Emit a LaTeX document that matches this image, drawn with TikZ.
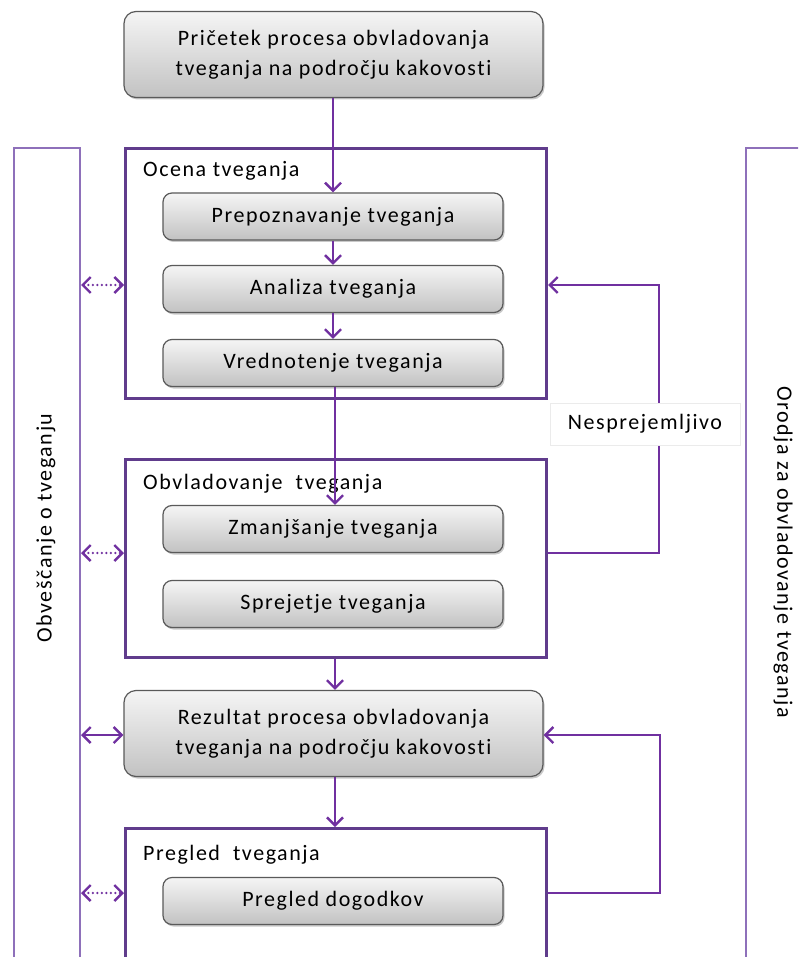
\documentclass[tikz,border=0pt]{standalone}
\usepackage{fontspec}
\setmainfont{Carlito}[LetterSpace=7,Ligatures=NoCommon]
\usetikzlibrary{arrows.meta,shadows,positioning}
\definecolor{groupc}{RGB}{96,60,140}
\definecolor{arrowc}{RGB}{112,48,160}
\definecolor{sidec}{RGB}{142,112,186}
\definecolor{boxtop}{RGB}{245,245,245}
\definecolor{boxbot}{RGB}{194,194,194}
\definecolor{boxline}{RGB}{90,90,90}
\tikzset{
  gbox/.style={draw=boxline, line width=1.2pt, rounded corners=9pt, top color=boxtop, bottom color=boxbot,
    align=center, inner sep=0pt, font=\fontsize{22}{30}\selectfont,
    drop shadow={shadow xshift=1.5pt, shadow yshift=-2pt, opacity=0.35, fill=black!60}},
  smallbox/.style={gbox, minimum width=340pt, minimum height=47pt},
  bigbox/.style={gbox, minimum width=419pt, minimum height=86pt, rounded corners=12pt},
  group/.style={draw=groupc, line width=3pt, inner sep=0pt},
  side/.style={draw=sidec, line width=2pt, inner sep=0pt},
  tipb/.tip={Straight Barb[length=8pt,width=16pt,line width=2.4pt]},
  flow/.style={draw=arrowc, line width=2.2pt, -tipb},
  flowtwo/.style={draw=arrowc, line width=2.2pt, tipb-tipb},
  dotflow/.style={flowtwo, dash pattern=on 0pt off 4.5pt, line cap=round, line width=2.6pt},
  txt/.style={font=\fontsize{22}{26}\selectfont},
  lbl/.style={txt, anchor=west, inner sep=0pt},
}
\begin{document}
\begin{tikzpicture}[x=1pt,y=-1pt]
\useasboundingbox (0,0) rectangle (798,957);
\clip (0,0) rectangle (798,957);
\fill[white] (0,0) rectangle (798,957);

% side columns
\node[side, minimum width=66pt, minimum height=870pt, anchor=north west] (left) at (13,147) {};
\node[side, minimum width=80pt, minimum height=870pt, anchor=north west] (right) at (745,147) {};
\node[rotate=90, txt] (lefttxt) at (46,528) {Obveščanje o tveganju};
\node[rotate=-90, txt] (righttxt) at (783,552) {Orodja za obvladovanje tveganja};

% groups
\node[group, minimum width=421pt, minimum height=250pt, anchor=north west] (ocena) at (124,147) {};
\node[lbl] (ocenal) at (143,171) {Ocena tveganja};
\node[group, minimum width=421pt, minimum height=198pt, anchor=north west] (obvl) at (124,458) {};
\node[lbl] (obvll) at (143,484) {Obvladovanje\ \ tveganja};
\node[group, minimum width=421pt, minimum height=200pt, anchor=north west] (pregled) at (124,827) {};
\node[lbl] (pregledl) at (143,855) {Pregled\ \ tveganja};

% boxes
\node[bigbox] (start) at (333.5,54.5) {Pričetek procesa obvladovanja\\tveganja na področju kakovosti};
\node[smallbox] (prep) at (333,216.5) {Prepoznavanje tveganja};
\node[smallbox] (anal) at (333,289) {Analiza tveganja};
\node[smallbox] (vred) at (333,363) {Vrednotenje tveganja};
\node[smallbox] (zman) at (333,529) {Zmanjšanje tveganja};
\node[smallbox] (sprej) at (333,604) {Sprejetje tveganja};
\node[bigbox] (rez) at (333.5,733.5) {Rezultat procesa obvladovanja\\tveganja na področju kakovosti};
\node[smallbox] (dog) at (333,901) {Pregled dogodkov};

% main flow
\coordinate (mx) at (335,0);
\coordinate (tx) at (333,0);
\draw[flow] (tx |- start.south) -- (tx |- prep.north);
\draw[flow] (prep.south) -- (anal.north);
\draw[flow] (anal.south) -- (vred.north);
\draw[flow] (mx |- vred.south) -- (mx |- zman.north);
\draw[flow] (mx |- obvl.south) -- (mx |- rez.north);
\draw[flow] (mx |- rez.south) -- (mx |- pregled.north);

% feedback loops
\coordinate (fb1a) at (659,553);
\coordinate (fb1b) at (659,285);
\draw[flow] (obvl.east |- fb1a) -- (fb1a) -- (fb1b) -- (ocena.east |- fb1b);
\node[fill=white, draw=black!8, line width=0.6pt, minimum width=190pt, minimum height=42pt, txt] (nespr) at (645,424) {Nesprejemljivo};
\coordinate (fb2a) at (660,893);
\coordinate (fb2b) at (660,735);
\draw[flow] (pregled.east |- fb2a) -- (fb2a) -- (fb2b) -- (rez.east |- fb2b);

% communication arrows
\draw[dotflow] (left.east |- 0,285) -- (ocena.west |- 0,285);
\draw[dotflow] (left.east |- 0,553) -- (obvl.west |- 0,553);
\draw[flowtwo] (left.east |- 0,735) -- (rez.west |- 0,735);
\draw[dotflow] (left.east |- 0,893) -- (pregled.west |- 0,893);
\end{tikzpicture}
\end{document}
